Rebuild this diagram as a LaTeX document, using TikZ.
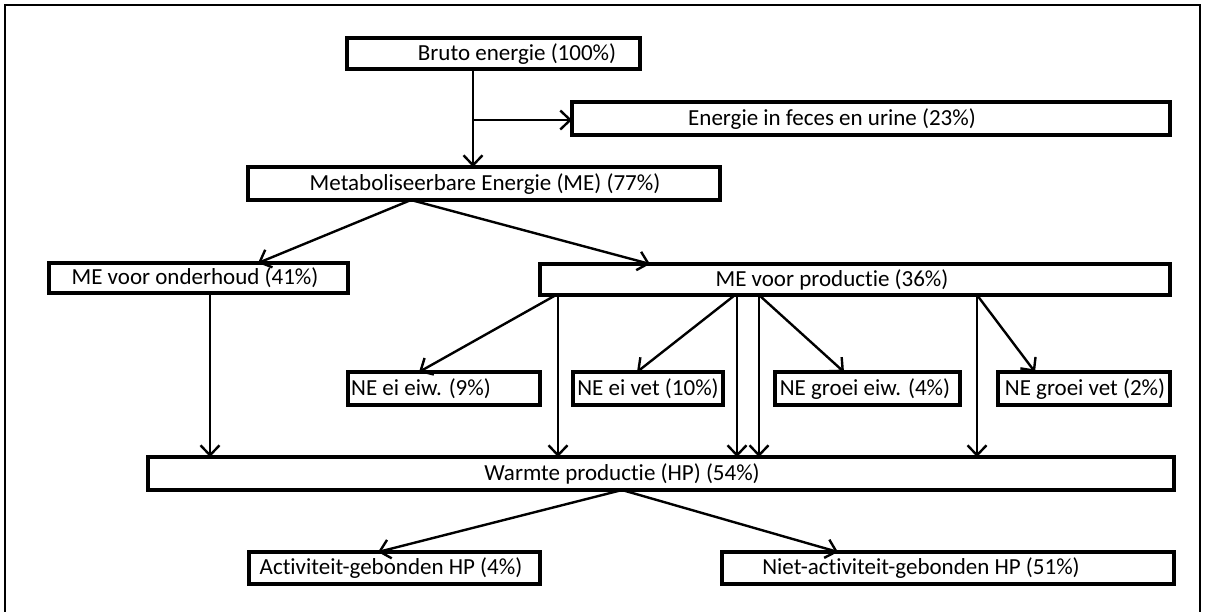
\documentclass[tikz,border=0pt]{standalone}
\usepackage{fontspec}
\setmainfont{Carlito}[Ligatures=NoCommon]
\usetikzlibrary{arrows.meta,calc}
\newcommand\bx[5]{%
 \pgfmathsetmacro\bw{#4-#2}\pgfmathsetmacro\bh{#5-#3}%
 \pgfmathsetmacro\bcx{(#2+#4)/2}\pgfmathsetmacro\bcy{(#3+#5)/2}%
 \node[box, minimum width=\bw pt, minimum height=\bh pt] (#1) at (\bcx,\bcy) {};}
\begin{document}
\begin{tikzpicture}[x=1pt,y=-1pt,
  box/.style={draw, line width=4pt, inner sep=0pt, outer sep=0pt, fill=white},
  txt/.style={inner sep=0pt, font=\fontsize{23}{27}\selectfont},
  arr/.style={line width=2.4pt, -{Straight Barb[length=10pt,width=19pt,line width=2.4pt]}},
  ln/.style={line width=2pt}]
\useasboundingbox (0,0) rectangle (1210,611);
\fill[white] (0,0) rectangle (1210,611);
\draw[line width=2pt] (5,640) -- (5,5) -- (1200,5) -- (1200,640);
% boxes
\bx{bruto}{347}{38}{640}{69}
\bx{feces}{572}{102}{1170}{135}
\bx{me}{248}{167}{720}{200}
\bx{ond}{49}{263}{348}{293}
\bx{prod}{540}{264}{1170}{295}
\bx{neee}{348}{372}{540}{405}
\bx{neev}{573}{372}{723}{405}
\bx{nege}{775}{372}{960}{405}
\bx{negv}{998}{372}{1170}{405}
\bx{warm}{148}{457}{1174}{490}
\bx{act}{249}{552}{540}{584}
\bx{niet}{722}{552}{1174}{584}
% texts
\node[txt] (t-bruto) at (517,54) {Bruto energie (100\%)};
\node[txt] (t-feces) at (832,119) {Energie in feces en urine (23\%)};
\node[txt] (t-me) at (485,184) {Metaboliseerbare Energie (ME) (77\%)};
\node[txt] (t-ond) at (195,278) {ME voor onderhoud (41\%)};
\node[txt] (t-prod) at (832,280) {ME voor productie (36\%)};
\node[txt] (t-neee) at (421,389) {NE ei eiw. (9\%)};
\node[txt] (t-neev) at (648,389) {NE ei vet (10\%)};
\node[txt] (t-nege) at (865,389) {NE groei eiw. (4\%)};
\node[txt] (t-negv) at (1085,389) {NE groei vet (2\%)};
\node[txt] (t-warm) at (622,474) {Warmte productie (HP) (54\%)};
\node[txt] (t-act) at (391,568) {Activiteit-gebonden HP (4\%)};
\node[txt] (t-niet) at (921,568) {Niet-activiteit-gebonden HP (51\%)};
% helper coordinates
\coordinate (xa) at (473,120);
\coordinate (xme) at (411,0);
\coordinate (xond1) at (258,0);
\coordinate (xprod1) at (650,0);
\coordinate (xond2) at (210,0);
\coordinate (p1) at (556,0);
\coordinate (p2) at (558,0);
\coordinate (p3) at (735,0);
\coordinate (p4) at (737,0);
\coordinate (p5) at (759,0);
\coordinate (p6) at (977,0);
\coordinate (e1) at (419,0);
\coordinate (e2) at (637,0);
\coordinate (e3) at (844,0);
\coordinate (e4) at (1035,0);
\coordinate (xw) at (622,0);
\coordinate (xact) at (378,0);
\coordinate (xniet) at (838,0);
% connectors
\draw[arr] (bruto.south -| xa) -- (me.north -| xa);
\draw[arr] (xa) -- (feces.west |- xa);
\draw[arr] (me.south -| xme) -- (ond.north -| xond1);
\draw[arr] (me.south -| xme) -- (prod.north -| xprod1);
\draw[arr] (ond.south -| xond2) -- (warm.north -| xond2);
\draw[arr] (prod.south -| p1) -- (neee.north -| e1);
\draw[arr] (prod.south -| p2) -- (warm.north -| p2);
\draw[arr] (prod.south -| p3) -- (neev.north -| e2);
\draw[arr] (prod.south -| p4) -- (warm.north -| p4);
\draw[arr] (prod.south -| p5) -- (warm.north -| p5);
\draw[arr] (prod.south -| p5) -- (nege.north -| e3);
\draw[arr] (prod.south -| p6) -- (warm.north -| p6);
\draw[arr] (prod.south -| p6) -- (negv.north -| e4);
\draw[arr] (warm.south -| xw) -- (act.north -| xact);
\draw[arr] (warm.south -| xw) -- (niet.north -| xniet);
\end{tikzpicture}
\end{document}
